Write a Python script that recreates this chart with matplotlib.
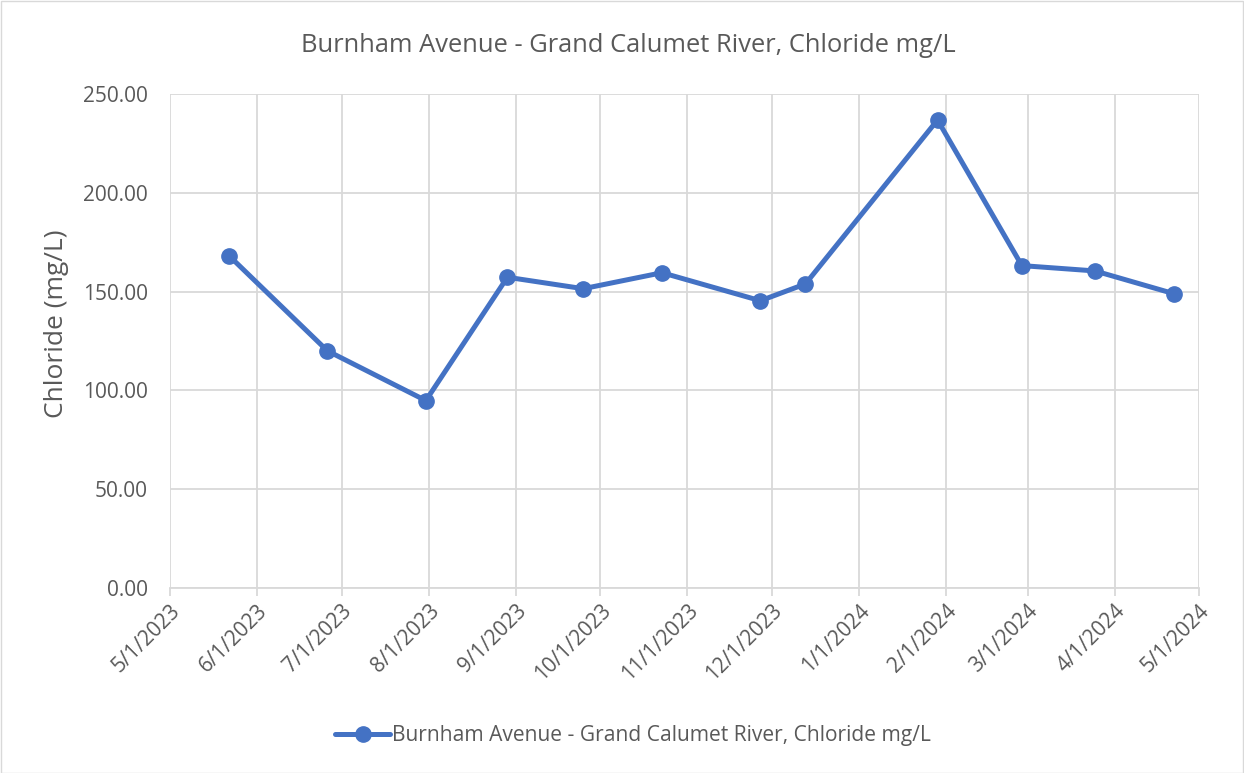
import matplotlib
matplotlib.use("Agg")
import matplotlib.pyplot as plt
import matplotlib.dates as mdates
import matplotlib.ticker as mticker
from matplotlib.patches import Rectangle
import pandas as pd

dates = ["2023-05-22", "2023-06-26", "2023-07-31", "2023-08-29", "2023-09-25",
         "2023-10-23", "2023-11-27", "2023-12-13", "2024-01-29", "2024-02-28",
         "2024-03-25", "2024-04-22"]
chloride = [168.2, 120.0, 94.8, 157.3, 151.5, 159.6, 145.4, 153.9, 237.0, 163.2, 160.5, 149.0]
tick_dates = pd.date_range("2023-05-01", "2024-05-01", freq="MS")
series_name = "Burnham Avenue - Grand Calumet River, Chloride mg/L"
title = "Burnham Avenue - Grand Calumet River, Chloride mg/L"
y_label = "Chloride (mg/L)"
y_ticks = [0, 50, 100, 150, 200, 250]

plt.rcParams['font.family'] = ['Open Sans', 'DejaVu Sans']
grey_text = "#595959"
grid_col = "#d9d9d9"
blue = "#4472C4"

fig = plt.figure(figsize=(12.44, 7.73), dpi=100)
fig.patches.append(Rectangle((0.5/1244, 0.5/773), 1 - 1.5/1244, 1 - 1.5/773,
                             transform=fig.transFigure, fill=False,
                             edgecolor=grid_col, linewidth=1))
ax = fig.add_axes([170/1244, 1 - 587.7/773, (1199 - 170)/1244, (587.7 - 94.3)/773])

x = pd.to_datetime(dates)
line, = ax.plot(x, chloride, color=blue, linewidth=3.6, marker="o", markersize=11,
                label=series_name, zorder=3, solid_capstyle="round")

ax.set_xlim(tick_dates[0], tick_dates[-1])
ax.set_ylim(0, 250)
ax.set_xticks(tick_dates)
ax.xaxis.set_major_formatter(mticker.FuncFormatter(
    lambda v, p: (lambda d: f"{d.month}/{d.day}/{d.year}")(mdates.num2date(v))))
ax.set_yticks(y_ticks)
ax.set_yticklabels([f"{v:.2f}" for v in y_ticks])

ax.grid(True, color=grid_col, linewidth=1.3, zorder=0)
ax.set_axisbelow(True)
for s in ["top", "right", "left"]:
    ax.spines[s].set_visible(False)
ax.spines["bottom"].set_color(grid_col)
ax.spines["bottom"].set_linewidth(1.3)

ax.tick_params(axis="x", colors=grid_col, length=6, width=1.3, labelcolor=grey_text,
               labelsize=15, pad=3)
ax.tick_params(axis="y", length=0, labelcolor=grey_text, labelsize=15, pad=16)
for lab in ax.get_xticklabels():
    lab.set_rotation(45)
    lab.set_ha("right")
    lab.set_va("top")
    lab.set_rotation_mode("anchor")

ax.set_ylabel(y_label, color=grey_text, fontsize=19)
ax.yaxis.set_label_coords((69 - 170) / 1029, (587.7 - 323.5) / 493.4)
fig.text(628 / 1244, 1 - 45 / 773, title, ha="center", va="center", color=grey_text, fontsize=18.4)

leg = fig.legend(handles=[line], loc="center", bbox_to_anchor=(633 / 1244, 1 - 736 / 773),
                 frameon=False, fontsize=15.1, handlelength=2.6, handletextpad=0.1,
                 labelcolor=grey_text)

fig.savefig("out.png", dpi=100)
